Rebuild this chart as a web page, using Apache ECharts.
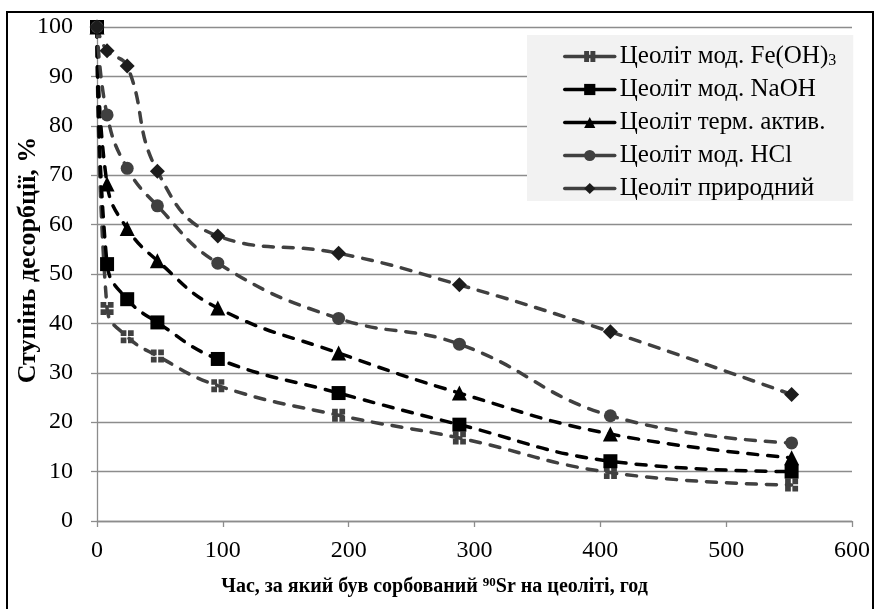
<!DOCTYPE html>
<html>
<head>
<meta charset="utf-8">
<script src="https://cdn.jsdelivr.net/npm/echarts@6/dist/echarts.min.js"></script>
<style>
html,body{margin:0;padding:0;background:#fff;}
#chart{width:875px;height:609px;}
</style>
</head>
<body>
<div id="chart"></div>
<script>
// ---- data ----
var hours = [0, 8, 24, 48, 96, 192, 288, 408, 552];
var seriesNames = ['Цеоліт мод. Fe(OH)3', 'Цеоліт мод. NaOH', 'Цеоліт терм. актив.', 'Цеоліт мод. HCl', 'Цеоліт природний'];
var feOH3   = [100, 43.0, 37.3, 33.4, 27.4, 21.4, 16.8, 9.8, 7.3];
var naOH    = [100, 52.0, 44.9, 40.2, 32.8, 25.9, 19.5, 12.1, 10.0];
var thermal = [100, 68.2, 59.2, 52.7, 43.1, 34.0, 25.9, 17.6, 12.8];
var hcl     = [100, 82.2, 71.4, 63.8, 52.2, 41.0, 35.8, 21.3, 15.8];
var natural = [100, 95.2, 92.1, 70.8, 57.7, 54.2, 47.8, 38.3, 25.6];
var xTicks = [0, 100, 200, 300, 400, 500, 600];
var yTicks = [0, 10, 20, 30, 40, 50, 60, 70, 80, 90, 100];

function pairs(vals) { return hours.map(function (h, i) { return [h, vals[i]]; }); }

var FONT = '"Liberation Serif", "DejaVu Serif", serif';
var crossSquare = 'path://M0,0L4.4,0L4.4,4.4L0,4.4Z M5.6,0L10,0L10,4.4L5.6,4.4Z M0,5.6L4.4,5.6L4.4,10L0,10Z M5.6,5.6L10,5.6L10,10L5.6,10Z';

function mkSeries(name, vals, lineColor, markColor, symbol, size) {
  return {
    name: name,
    type: 'line',
    data: pairs(vals),
    smooth: 0.45,
    symbol: symbol,
    symbolSize: size,
    symbolKeepAspect: true,
    showAllSymbol: true,
    lineStyle: { color: lineColor, width: 3.5, type: [10, 10], cap: 'round' },
    itemStyle: { color: markColor, borderWidth: 0 },
    emphasis: { disabled: true },
    z: 2
  };
}

var chart = echarts.init(document.getElementById('chart'), null, { renderer: 'canvas' });
chart.setOption({
  backgroundColor: '#ffffff',
  animation: false,
  textStyle: { fontFamily: FONT },
  graphic: [{
    type: 'rect',
    shape: { x: 7, y: 12, width: 866, height: 640 },
    style: { fill: null, stroke: '#000', lineWidth: 2 },
    silent: true, z: 0
  }],
  grid: { left: 97, right: 23, top: 27, bottom: 88, containLabel: false, outerBoundsMode: 'none' },
  legend: {
    orient: 'vertical',
    left: 527, top: 35,
    padding: [8, 17, 0, 36],
    backgroundColor: '#f2f2f2',
    itemWidth: 50, itemHeight: 14,
    itemGap: 8,
    data: seriesNames,
    lineStyle: { type: 'solid', width: 3.5 },
    textStyle: {
      fontFamily: FONT, fontSize: 25, color: '#000', lineHeight: 25,
      rich: {
        a: { fontFamily: FONT, fontSize: 25, color: '#000', lineHeight: 25 },
        s: { fontFamily: FONT, fontSize: 16, color: '#000', lineHeight: 25, verticalAlign: 'bottom', padding: [10, 0, 0, 0] }
      }
    },
    formatter: function (n) {
      if (n.indexOf('Fe(OH)3') >= 0) return '{a|Цеоліт мод. Fe(OH)}{s|3}';
      return n;
    }
  },
  xAxis: {
    type: 'value',
    min: xTicks[0], max: xTicks[xTicks.length - 1], interval: 100,
    axisLine: { show: true, lineStyle: { color: '#8c8c8c', width: 1.3 } },
    axisTick: { show: true, length: 6, lineStyle: { color: '#8c8c8c', width: 1.3 } },
    splitLine: { show: false },
    axisLabel: { fontFamily: FONT, fontSize: 24, color: '#000', margin: 18 },
    name: '{b|Час, за який був сорбований }{sup|90}{b|Sr на цеоліті, год}',
    nameLocation: 'middle',
    nameGap: 52,
    nameMoveOverlap: false,
    nameTextStyle: {
      padding: [0, 80, 0, 0],
      rich: {
        b: { fontFamily: FONT, fontSize: 20, fontWeight: 'bold', color: '#000', lineHeight: 24, verticalAlign: 'bottom' },
        sup: { fontFamily: FONT, fontSize: 13, fontWeight: 'bold', color: '#000', lineHeight: 24, verticalAlign: 'bottom', padding: [0, 0, 8, 0] }
      }
    }
  },
  yAxis: {
    type: 'value',
    min: yTicks[0], max: yTicks[yTicks.length - 1], interval: 10,
    axisLine: { show: true, lineStyle: { color: '#8c8c8c', width: 1.3 } },
    axisTick: { show: true, length: 6, lineStyle: { color: '#8c8c8c', width: 1.3 } },
    splitLine: { show: true, lineStyle: { color: '#8c8c8c', width: 1.3 } },
    axisLabel: { fontFamily: FONT, fontSize: 24, color: '#000', margin: 24 },
    name: 'Ступінь десорбції, %',
    nameLocation: 'middle',
    nameGap: 56,
    nameMoveOverlap: false,
    nameTextStyle: { fontFamily: FONT, fontSize: 26, fontWeight: 'bold', color: '#000', padding: [0, 0, 0, 28] }
  },
  series: [
    mkSeries(seriesNames[0], feOH3, '#404040', '#404040', crossSquare, 13),
    mkSeries(seriesNames[1], naOH, '#000000', '#000000', 'rect', 14),
    mkSeries(seriesNames[2], thermal, '#000000', '#000000', 'triangle', 15),
    mkSeries(seriesNames[3], hcl, '#404040', '#404040', 'circle', 13),
    mkSeries(seriesNames[4], natural, '#404040', '#1c1c1c', 'diamond', 15)
  ]
});
</script>
</body>
</html>
